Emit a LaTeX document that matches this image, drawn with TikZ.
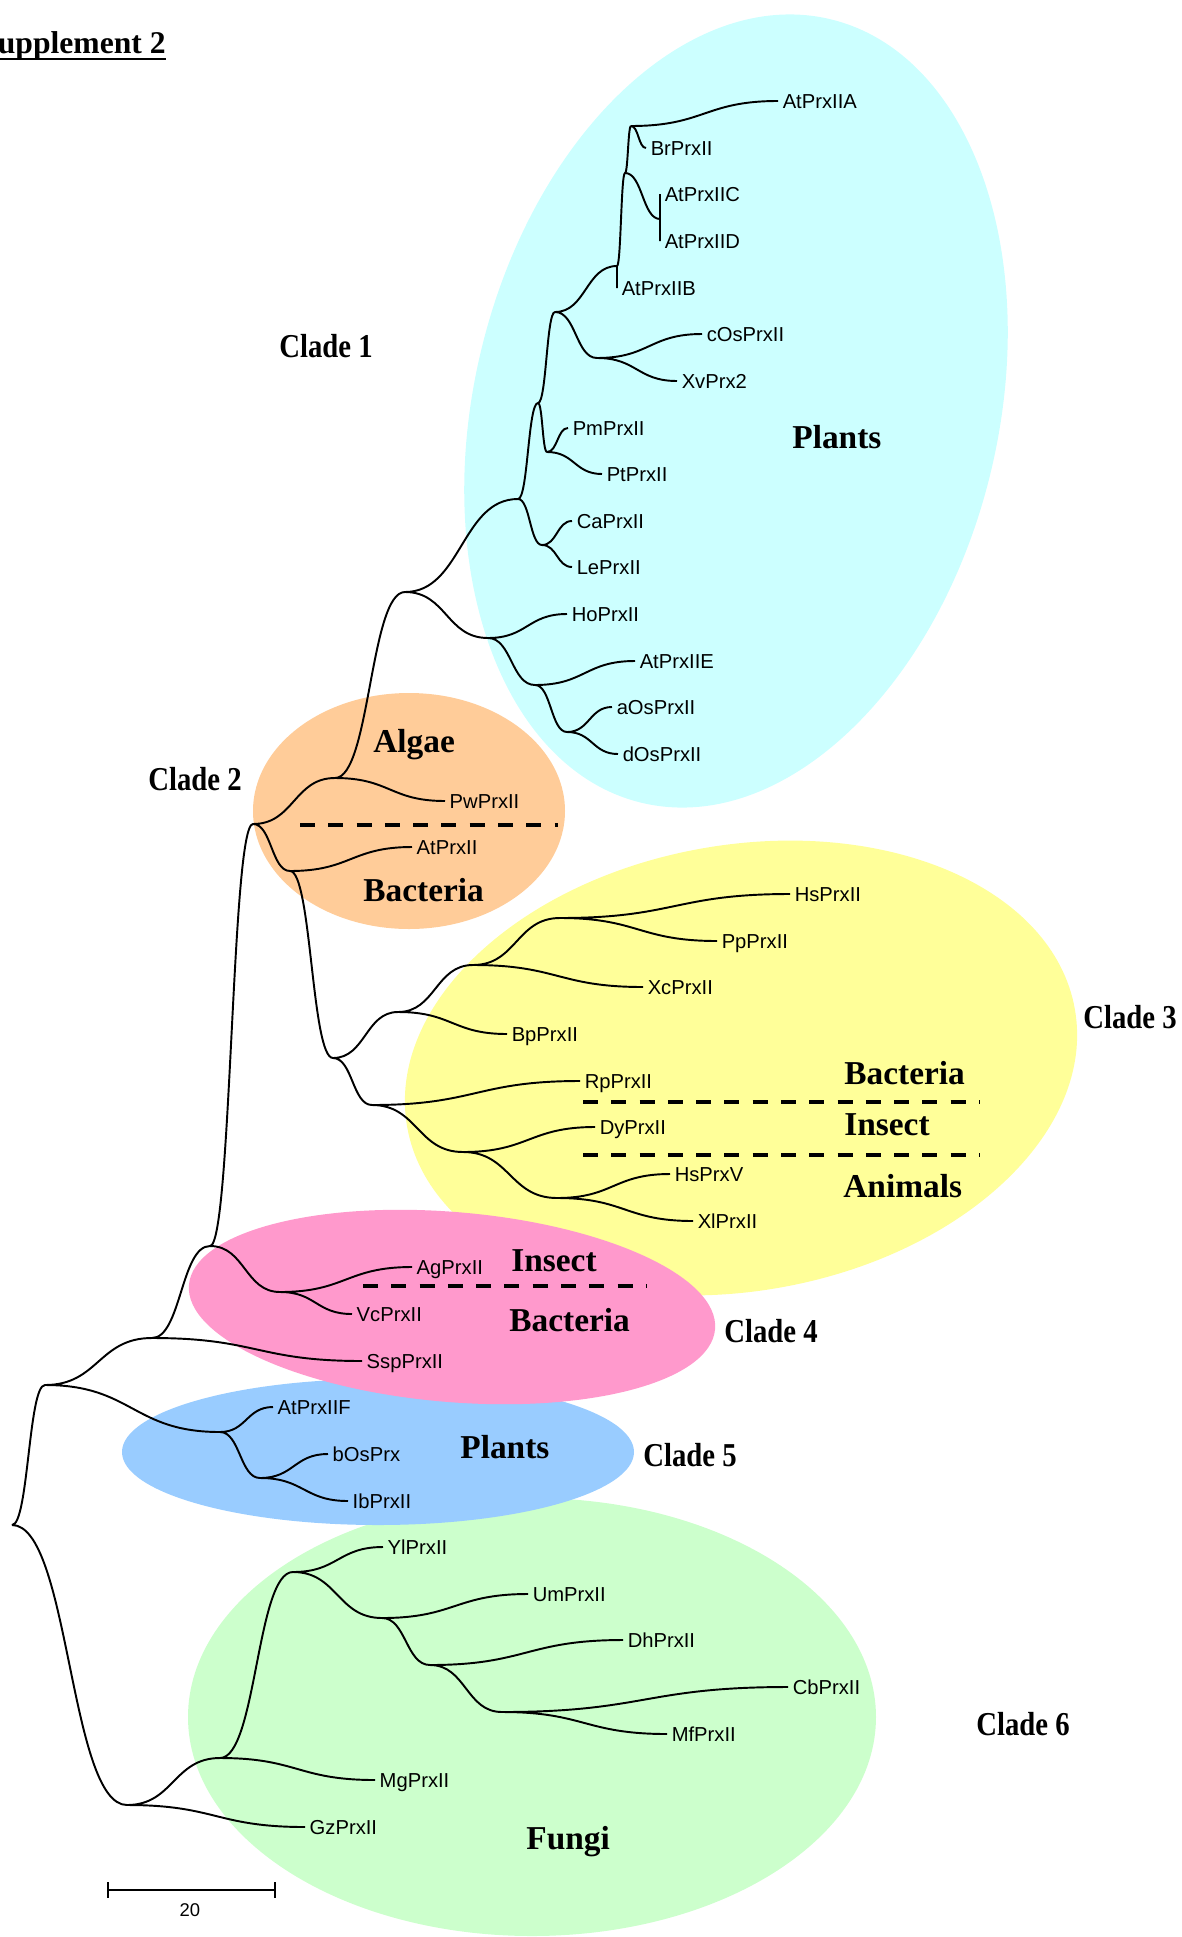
\documentclass[tikz,border=0pt]{standalone}
\usepackage{fontspec}
\setmainfont{Liberation Serif}
\setsansfont{Liberation Sans}
\newfontfamily\cladefont[FakeStretch=0.86]{Liberation Serif}
\usetikzlibrary{calc}
\definecolor{plantcyan}{HTML}{CCFFFF}
\definecolor{algaeorange}{HTML}{FFCC99}
\definecolor{bactyellow}{HTML}{FFFF99}
\definecolor{insectpink}{HTML}{FF99CC}
\definecolor{plantblue}{HTML}{99CCFF}
\definecolor{fungigreen}{HTML}{CCFFCC}
\begin{document}
\begin{tikzpicture}[x=0.02cm, y=-0.02cm,
        every node/.style = {inner sep=0pt},
        leaf/.style = {anchor=west, inner xsep=2.5pt, text height=8.2pt, text depth=0pt,
                font=\sffamily\fontsize{11.5}{13}\selectfont},
        group/.style = {anchor=base west, font=\bfseries\fontsize{19}{22}\selectfont},
        clade/.style = {anchor=base west, font=\cladefont\bfseries\fontsize{19}{22}\selectfont},
        title/.style = {anchor=base east, font=\bfseries\fontsize{18}{21}\selectfont},
        branch/.style = {line width=1.1pt,
                to path={let \p1=(\tikztostart), \p2=(\tikztotarget) in
                        .. controls ({(\x1+\x2)/2},\y1) and ({(\x1+\x2)/2},\y2) .. (\tikztotarget)}},
        divider/.style = {line width=2.3pt, dash pattern=on 8.5pt off 7.6pt}]
\useasboundingbox (0,0) rectangle (1182,1937);

% coloured groups
\fill[fungigreen] (532,1717) ellipse (344 and 219);
\fill[plantblue] (378,1452) ellipse (256 and 73);
\fill[bactyellow, rotate around={10:(741,1068)}] (741,1068) ellipse (339 and 223);
\fill[insectpink, rotate around={-4.8:(452,1307)}] (452,1307) ellipse (264 and 95);
\fill[plantcyan, rotate around={-13.6:(736,411)}] (736,411) ellipse (262 and 403);
\fill[algaeorange] (409,811) ellipse (156 and 118);

\draw[divider] (300,825) -- (558,825);
\draw[divider] (583,1102) -- (980,1102);
\draw[divider] (583,1155) -- (980,1155);
\draw[divider] (363,1286) -- (646,1286);

% title
\node[title] (title) at (166,53) {Supplement 2};
\draw[line width=1.7pt] ([yshift=-0.12cm]title.base west) -- ([yshift=-0.12cm]title.base east);

% inner nodes
\coordinate (R0) at (12,1525);
\coordinate (N1) at (45,1385);
\coordinate (N2) at (152,1338);
\coordinate (N3) at (210,1246);
\coordinate (C2) at (253,824);
\coordinate (Pw) at (335,778);
\coordinate (A2) at (290,871);
\coordinate (C3) at (333,1058);
\coordinate (C4) at (280,1292);
\coordinate (C5) at (220,1432);
\coordinate (C5b) at (260,1478);
\coordinate (F0) at (127,1805);
\coordinate (F1) at (220,1758);
\coordinate (F2) at (293,1572);
\coordinate (F3) at (382,1618);
\coordinate (F4) at (430,1665);
\coordinate (F5) at (502,1712);
\coordinate (B1) at (398,1012);
\coordinate (B2) at (473,965);
\coordinate (B3) at (560,918);
\coordinate (B4) at (372,1105);
\coordinate (B5) at (463,1152);
\coordinate (B6) at (557,1198);
\coordinate (P0) at (405,592);
\coordinate (P1) at (518,499);
\coordinate (P2) at (538,403);
\coordinate (P3) at (555,312);
\coordinate (P4) at (617,266);
\coordinate (P5) at (625,173);
\coordinate (P6) at (631,126);
\coordinate (P7) at (660,219);
\coordinate (P8) at (597,358);
\coordinate (P9) at (547,452);
\coordinate (P10) at (542,545);
\coordinate (P11) at (488,638);
\coordinate (P12) at (535,685);
\coordinate (P13) at (567,732);

% leaves
\node[leaf] (AtPrxIIA) at (778,101) {AtPrxIIA};
\node[leaf] (BrPrxII) at (646,148) {BrPrxII};
\node[leaf] (AtPrxIIC) at (660,194) {AtPrxIIC};
\node[leaf] (AtPrxIID) at (660,241) {AtPrxIID};
\node[leaf] (AtPrxIIB) at (617,288) {AtPrxIIB};
\node[leaf] (cOsPrxII) at (702,334) {cOsPrxII};
\node[leaf] (XvPrx2) at (677,381) {XvPrx2};
\node[leaf] (PmPrxII) at (568,428) {PmPrxII};
\node[leaf] (PtPrxII) at (602,474) {PtPrxII};
\node[leaf] (CaPrxII) at (572,521) {CaPrxII};
\node[leaf] (LePrxII) at (572,567) {LePrxII};
\node[leaf] (HoPrxII) at (567,614) {HoPrxII};
\node[leaf] (AtPrxIIE) at (635,661) {AtPrxIIE};
\node[leaf] (aOsPrxII) at (612,707) {aOsPrxII};
\node[leaf] (dOsPrxII) at (618,754) {dOsPrxII};
\node[leaf] (PwPrxII) at (445,801) {PwPrxII};
\node[leaf] (AtPrxII) at (412,847) {AtPrxII};
\node[leaf] (HsPrxII) at (790,894) {HsPrxII};
\node[leaf] (PpPrxII) at (717,941) {PpPrxII};
\node[leaf] (XcPrxII) at (643,987) {XcPrxII};
\node[leaf] (BpPrxII) at (507,1034) {BpPrxII};
\node[leaf] (RpPrxII) at (580,1081) {RpPrxII};
\node[leaf] (DyPrxII) at (595,1127) {DyPrxII};
\node[leaf] (HsPrxV) at (670,1174) {HsPrxV};
\node[leaf] (XlPrxII) at (693,1221) {XlPrxII};
\node[leaf] (AgPrxII) at (412,1267) {AgPrxII};
\node[leaf] (VcPrxII) at (352,1314) {VcPrxII};
\node[leaf] (SspPrxII) at (362,1361) {SspPrxII};
\node[leaf] (AtPrxIIF) at (273,1407) {AtPrxIIF};
\node[leaf] (bOsPrx) at (328,1454) {bOsPrx};
\node[leaf] (IbPrxII) at (348,1501) {IbPrxII};
\node[leaf] (YlPrxII) at (383,1547) {YlPrxII};
\node[leaf] (UmPrxII) at (528,1594) {UmPrxII};
\node[leaf] (DhPrxII) at (623,1640) {DhPrxII};
\node[leaf] (CbPrxII) at (788,1687) {CbPrxII};
\node[leaf] (MfPrxII) at (667,1734) {MfPrxII};
\node[leaf] (MgPrxII) at (375,1780) {MgPrxII};
\node[leaf] (GzPrxII) at (305,1827) {GzPrxII};

% branches
\draw[branch] (R0) to (N1) (R0) to (F0)
        (N1) to (N2) (N1) to (C5)
        (N2) to (N3) (N2) to (SspPrxII.west)
        (N3) to (C2) (N3) to (C4)
        (C2) to (Pw) (C2) to (A2)
        (Pw) to (P0) (Pw) to (PwPrxII.west)
        (A2) to (AtPrxII.west) (A2) to (C3)
        (C4) to (AgPrxII.west) (C4) to (VcPrxII.west)
        (C5) to (AtPrxIIF.west) (C5) to (C5b)
        (C5b) to (bOsPrx.west) (C5b) to (IbPrxII.west);
\draw[branch] (F0) to (F1) (F0) to (GzPrxII.west)
        (F1) to (F2) (F1) to (MgPrxII.west)
        (F2) to (YlPrxII.west) (F2) to (F3)
        (F3) to (UmPrxII.west) (F3) to (F4)
        (F4) to (DhPrxII.west) (F4) to (F5)
        (F5) to (CbPrxII.west) (F5) to (MfPrxII.west);
\draw[branch] (C3) to (B1) (C3) to (B4)
        (B1) to (B2) (B1) to (BpPrxII.west)
        (B2) to (B3) (B2) to (XcPrxII.west)
        (B3) to (HsPrxII.west) (B3) to (PpPrxII.west)
        (B4) to (RpPrxII.west) (B4) to (B5)
        (B5) to (DyPrxII.west) (B5) to (B6)
        (B6) to (HsPrxV.west) (B6) to (XlPrxII.west);
\draw[branch] (P0) to (P1) (P0) to (P11)
        (P1) to (P2) (P1) to (P10)
        (P2) to (P3) (P2) to (P9)
        (P3) to (P4) (P3) to (P8)
        (P4) to (P5) (P4) to (AtPrxIIB.west)
        (P5) to (P6) (P5) to (P7)
        (P6) to (AtPrxIIA.west) (P6) to (BrPrxII.west)
        (P7) to (AtPrxIIC.west) (P7) to (AtPrxIID.west)
        (P8) to (cOsPrxII.west) (P8) to (XvPrx2.west)
        (P9) to (PmPrxII.west) (P9) to (PtPrxII.west)
        (P10) to (CaPrxII.west) (P10) to (LePrxII.west)
        (P11) to (HoPrxII.west) (P11) to (P12)
        (P12) to (AtPrxIIE.west) (P12) to (P13)
        (P13) to (aOsPrxII.west) (P13) to (dOsPrxII.west);

% group labels
\node[clade] (clade1) at (279,357) {Clade 1};
\node[clade] (clade2) at (148,790) {Clade 2};
\node[clade] (clade3) at (1083,1028) {Clade 3};
\node[clade] (clade4) at (724,1342) {Clade 4};
\node[clade] (clade5) at (643,1466) {Clade 5};
\node[clade] (clade6) at (976,1735) {Clade 6};
\node[group] (plantsA) at (792,448) {Plants};
\node[group] (algae) at (373,752) {Algae};
\node[group] (bacteriaA) at (363,901) {Bacteria};
\node[group] (bacteriaB) at (844,1084) {Bacteria};
\node[group] (insectA) at (844,1135) {Insect};
\node[group] (animals) at (843,1197) {Animals};
\node[group] (insectB) at (511,1271) {Insect};
\node[group] (bacteriaC) at (509,1331) {Bacteria};
\node[group] (plantsB) at (460,1458) {Plants};
\node[group] (fungi) at (526,1849) {Fungi};

% scale bar
\coordinate (barL) at (108,1890);
\coordinate (barR) at (275,1890);
\draw[line width=1.1pt] (barL) -- (barR)
        (barL) ++(0,-8) -- ++(0,16)
        (barR) ++(0,-8) -- ++(0,16);
\node[font=\sffamily\fontsize{10.5}{12}\selectfont] (barlabel) at (190,1910) {20};
\end{tikzpicture}
\end{document}
